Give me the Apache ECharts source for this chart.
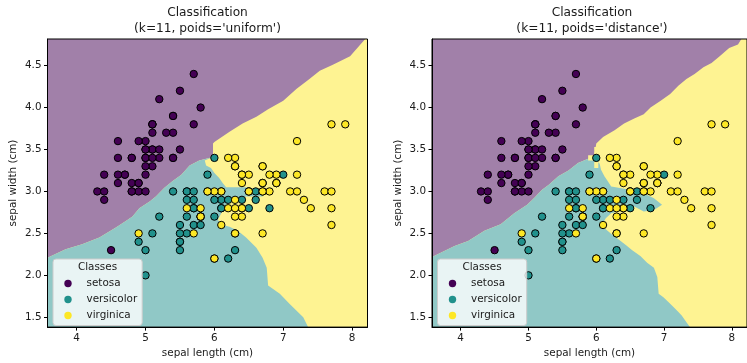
<!DOCTYPE html>
<html>
<head>
<meta charset="utf-8">
<script src="https://cdn.jsdelivr.net/npm/echarts@6/dist/echarts.min.js"></script>
<style>
  html, body { margin: 0; padding: 0; background: #fff; }
  #chart { width: 747px; height: 363px; }
</style>
</head>
<body>
<div id="chart"></div>
<script>
// iris : longueur / largeur du sepale, par classe
const setosa = [[5.1,3.5],[4.9,3.0],[4.7,3.2],[4.6,3.1],[5.0,3.6],[5.4,3.9],[4.6,3.4],[5.0,3.4],[4.4,2.9],[4.9,3.1],
  [5.4,3.7],[4.8,3.4],[4.8,3.0],[4.3,3.0],[5.8,4.0],[5.7,4.4],[5.4,3.9],[5.1,3.5],[5.7,3.8],[5.1,3.8],
  [5.4,3.4],[5.1,3.7],[4.6,3.6],[5.1,3.3],[4.8,3.4],[5.0,3.0],[5.0,3.4],[5.2,3.5],[5.2,3.4],[4.7,3.2],
  [4.8,3.1],[5.4,3.4],[5.2,4.1],[5.5,4.2],[4.9,3.1],[5.0,3.2],[5.5,3.5],[4.9,3.6],[4.4,3.0],[5.1,3.4],
  [5.0,3.5],[4.5,2.3],[4.4,3.2],[5.0,3.5],[5.1,3.8],[4.8,3.0],[5.1,3.8],[4.6,3.2],[5.3,3.7],[5.0,3.3]];
const versicolor = [[7.0,3.2],[6.4,3.2],[6.9,3.1],[5.5,2.3],[6.5,2.8],[5.7,2.8],[6.3,3.3],[4.9,2.4],[6.6,2.9],[5.2,2.7],
  [5.0,2.0],[5.9,3.0],[6.0,2.2],[6.1,2.9],[5.6,2.9],[6.7,3.1],[5.6,3.0],[5.8,2.7],[6.2,2.2],[5.6,2.5],
  [5.9,3.2],[6.1,2.8],[6.3,2.5],[6.1,2.8],[6.4,2.9],[6.6,3.0],[6.8,2.8],[6.7,3.0],[6.0,2.9],[5.7,2.6],
  [5.5,2.4],[5.5,2.4],[5.8,2.7],[6.0,2.7],[5.4,3.0],[6.0,3.4],[6.7,3.1],[6.3,2.3],[5.6,3.0],[5.5,2.5],
  [5.5,2.6],[6.1,3.0],[5.8,2.6],[5.0,2.3],[5.6,2.7],[5.7,3.0],[5.7,2.9],[6.2,2.9],[5.1,2.5],[5.7,2.8]];
const virginica = [[6.3,3.3],[5.8,2.7],[7.1,3.0],[6.3,2.9],[6.5,3.0],[7.6,3.0],[4.9,2.5],[7.3,2.9],[6.7,2.5],[7.2,3.6],
  [6.5,3.2],[6.4,2.7],[6.8,3.0],[5.7,2.5],[5.8,2.8],[6.4,3.2],[6.5,3.0],[7.7,3.8],[7.7,2.6],[6.0,2.2],
  [6.9,3.2],[5.6,2.8],[7.7,2.8],[6.3,2.7],[6.7,3.3],[7.2,3.2],[6.2,2.8],[6.1,3.0],[6.4,2.8],[7.2,3.0],
  [7.4,2.8],[7.9,3.8],[6.4,2.8],[6.3,2.8],[6.1,2.6],[7.7,3.0],[6.3,3.4],[6.4,3.1],[6.0,3.0],[6.9,3.1],
  [6.7,3.1],[6.9,3.1],[5.8,2.7],[6.8,3.2],[6.7,3.3],[6.7,3.0],[6.3,2.5],[6.5,3.0],[6.2,3.4],[5.9,3.0]];
const classNames = ['setosa', 'versicolor', 'virginica'];

const xTicks = [4, 5, 6, 7, 8];
const yTicks = [1.5, 2.0, 2.5, 3.0, 3.5, 4.0, 4.5];
const xRange = [3.577, 8.223];
const yRange = [1.383, 4.817];

// zones de decision (poids='uniform')
const uniformPurple = [[3.577,4.817],[8.19,4.817],[7.97,4.61],[7.72,4.51],[7.53,4.44],[7.38,4.34],[7.19,4.22],[7.00,4.08],
  [6.78,3.98],[6.61,3.89],[6.41,3.81],[6.22,3.71],[6.00,3.59],[5.98,3.57],[5.98,3.41],[5.88,3.39],[5.78,3.37],
  [5.64,3.31],[5.52,3.20],[5.39,3.12],[5.27,3.04],[5.15,2.94],[5.06,2.88],[4.91,2.80],[4.81,2.70],[4.72,2.65],
  [4.57,2.57],[4.33,2.45],[4.08,2.37],[3.84,2.31],[3.577,2.21]];
const uniformTeal = [[3.577,2.21],[3.84,2.31],[4.08,2.37],[4.33,2.45],[4.57,2.57],[4.72,2.65],[4.81,2.70],[4.91,2.80],
  [5.06,2.88],[5.15,2.94],[5.27,3.04],[5.39,3.12],[5.52,3.20],[5.64,3.31],[5.78,3.37],[5.88,3.39],[5.98,3.41],
  [5.86,3.37],[5.88,3.31],[5.95,3.28],[6.00,3.22],[6.07,3.16],[6.12,3.10],[6.17,3.05],[6.46,3.05],[6.70,3.01],
  [6.70,2.94],[6.46,2.94],[6.27,2.90],[6.17,2.84],[6.10,2.74],[6.05,2.66],[6.12,2.60],[6.22,2.58],[6.34,2.53],
  [6.46,2.45],[6.61,2.33],[6.70,2.21],[6.76,2.09],[6.78,1.88],[6.95,1.78],[7.09,1.66],[7.29,1.50],[7.36,1.383],
  [3.577,1.383]];

// zones de decision (poids='distance')
const distancePurple = [[3.577,4.817],[8.14,4.817],[8.09,4.75],[7.96,4.71],[7.82,4.61],[7.70,4.53],[7.58,4.48],[7.45,4.40],
  [7.33,4.34],[7.21,4.26],[7.09,4.16],[6.95,4.08],[6.80,4.00],[6.70,3.92],[6.56,3.87],[6.41,3.81],[6.27,3.73],
  [6.10,3.65],[6.00,3.57],[5.97,3.43],[5.88,3.39],[5.73,3.34],[5.59,3.25],[5.44,3.18],[5.30,3.08],[5.20,3.02],
  [5.08,2.92],[4.98,2.84],[4.79,2.74],[4.59,2.61],[4.35,2.53],[4.11,2.41],[3.91,2.35],[3.577,2.22]];
const distanceTeal = [[3.577,2.22],[3.91,2.35],[4.11,2.41],[4.35,2.53],[4.59,2.61],[4.79,2.74],[4.98,2.84],[5.08,2.92],
  [5.20,3.02],[5.30,3.08],[5.44,3.18],[5.59,3.25],[5.73,3.34],[5.88,3.39],[5.97,3.43],[5.98,3.39],[6.05,3.33],
  [6.07,3.26],[6.12,3.18],[6.17,3.12],[6.22,3.06],[6.65,3.00],[6.85,2.92],[6.97,2.84],[6.85,2.78],[6.70,2.76],
  [6.56,2.82],[6.41,2.78],[6.22,2.74],[6.14,2.68],[6.09,2.61],[6.14,2.55],[6.24,2.48],[6.34,2.42],[6.44,2.36],
  [6.53,2.30],[6.65,2.23],[6.75,2.15],[6.85,2.09],[6.90,1.98],[6.92,1.78],[6.99,1.74],[7.09,1.66],[7.19,1.58],
  [7.26,1.52],[7.33,1.44],[7.38,1.383],[3.577,1.383]];
const distanceIsland = [[4.36,2.28],[4.56,2.28],[4.56,2.33],[4.36,2.33]];
const distanceCross = [[5.97,3.28],[6.03,3.28],[6.03,3.37],[6.12,3.37],[6.12,3.43],[6.03,3.43],[6.03,3.53],[5.97,3.53],
  [5.97,3.43],[5.88,3.43],[5.88,3.37],[5.97,3.37]];

const panels = [
  { title: "Classification\n(k=11, poids='uniform')", purple: [uniformPurple], teal: [uniformTeal], yellow: [] },
  { title: "Classification\n(k=11, poids='distance')", purple: [distancePurple, distanceIsland], teal: [distanceTeal], yellow: [distanceCross] }
];

const pointColors = ['#440154', '#21918c', '#fde725'];
const regionColors = ['#a180a9', '#90c8c6', '#fef392'];
const font = 'DejaVu Sans';
const ink = '#1a1a1a';
const fs = 10.4;

const grids = [
  { left: 47.5, top: 39, width: 320, height: 292 },
  { left: 432, top: 39, width: 320, height: 292 }
];

const chart = echarts.init(document.getElementById('chart'), null, { renderer: 'canvas' });

function polygon(points, color) {
  return function (params, api) {
    return {
      type: 'polygon',
      shape: { points: points.map(p => api.coord(p)) },
      style: { fill: color }
    };
  };
}

function area(i, points, color, z) {
  return {
    type: 'custom',
    xAxisIndex: i,
    yAxisIndex: i,
    silent: true,
    z: z,
    data: [[points[0][0], points[0][1]]],
    renderItem: polygon(points, color)
  };
}

const series = [];
const graphic = [];
panels.forEach((p, i) => {
  const box = [[xRange[0], yRange[0]], [xRange[1], yRange[0]], [xRange[1], yRange[1]], [xRange[0], yRange[1]]];
  series.push(area(i, box, regionColors[2], 1));
  p.purple.forEach(pts => series.push(area(i, pts, regionColors[0], 2)));
  p.teal.forEach(pts => series.push(area(i, pts, regionColors[1], 2)));
  p.yellow.forEach(pts => series.push(area(i, pts, regionColors[2], 3)));
  [setosa, versicolor, virginica].forEach((d, k) => {
    series.push({
      type: 'scatter',
      name: classNames[k],
      xAxisIndex: i,
      yAxisIndex: i,
      data: d,
      symbolSize: 7.4,
      itemStyle: { color: pointColors[k], borderColor: '#000', borderWidth: 1, opacity: 1 },
      z: 5 + k,
      silent: true
    });
  });
  graphic.push({
    type: 'text',
    x: grids[i].left + grids[i].width / 2,
    y: 5,
    z: 100,
    style: {
      text: p.title,
      textAlign: 'center',
      textVerticalAlign: 'top',
      font: '12.2px "' + font + '"',
      lineHeight: 15.6,
      fill: ink
    }
  });
  graphic.push({
    type: 'text',
    x: grids[i].left + 50,
    y: 267.7,
    z: 100,
    style: {
      text: 'Classes',
      textAlign: 'center',
      textVerticalAlign: 'middle',
      font: fs + 'px "' + font + '"',
      fill: ink
    }
  });
});

const option = {
  animation: false,
  textStyle: { fontFamily: font },
  grid: grids.map(g => Object.assign({ show: true, backgroundColor: 'transparent', borderColor: '#000', borderWidth: 1, z: 10 }, g)),
  xAxis: grids.map((g, i) => ({
    gridIndex: i,
    type: 'value',
    min: xRange[0],
    max: xRange[1],
    name: 'sepal length (cm)',
    nameLocation: 'middle',
    nameGap: 19,
    nameTextStyle: { fontSize: fs, color: ink, fontFamily: font },
    axisLine: { show: true, lineStyle: { color: '#000', width: 1 } },
    axisTick: { show: true, length: 3.5, customValues: xTicks, lineStyle: { color: '#000' } },
    axisLabel: { customValues: xTicks, fontSize: fs, fontFamily: font, color: ink, margin: 6, formatter: v => String(v) },
    splitLine: { show: false },
    z: 10
  })),
  yAxis: grids.map((g, i) => ({
    gridIndex: i,
    type: 'value',
    min: yRange[0],
    max: yRange[1],
    name: 'sepal width (cm)',
    nameLocation: 'middle',
    nameGap: 29,
    nameTextStyle: { fontSize: fs, color: ink, fontFamily: font },
    axisLine: { show: true, lineStyle: { color: '#000', width: 1 } },
    axisTick: { show: true, length: 3.5, customValues: yTicks, lineStyle: { color: '#000' } },
    axisLabel: { customValues: yTicks, fontSize: fs, fontFamily: font, color: ink, margin: 6, formatter: v => v.toFixed(1) },
    splitLine: { show: false },
    z: 10
  })),
  legend: grids.map(g => ({
    data: classNames,
    orient: 'vertical',
    left: g.left + 5.5,
    top: 259,
    icon: 'circle',
    itemWidth: 27,
    itemHeight: 7.4,
    itemGap: 4,
    padding: [18.5, 5, 4, 11.3],
    backgroundColor: 'rgba(255,255,255,0.8)',
    borderColor: '#cccccc',
    borderWidth: 1,
    borderRadius: 3,
    selectedMode: false,
    itemStyle: { borderWidth: 0 },
    textStyle: { fontSize: fs, lineHeight: 12, color: ink, fontFamily: font },
    z: 20
  })),
  graphic: graphic,
  series: series
};

chart.setOption(option);
</script>
</body>
</html>
